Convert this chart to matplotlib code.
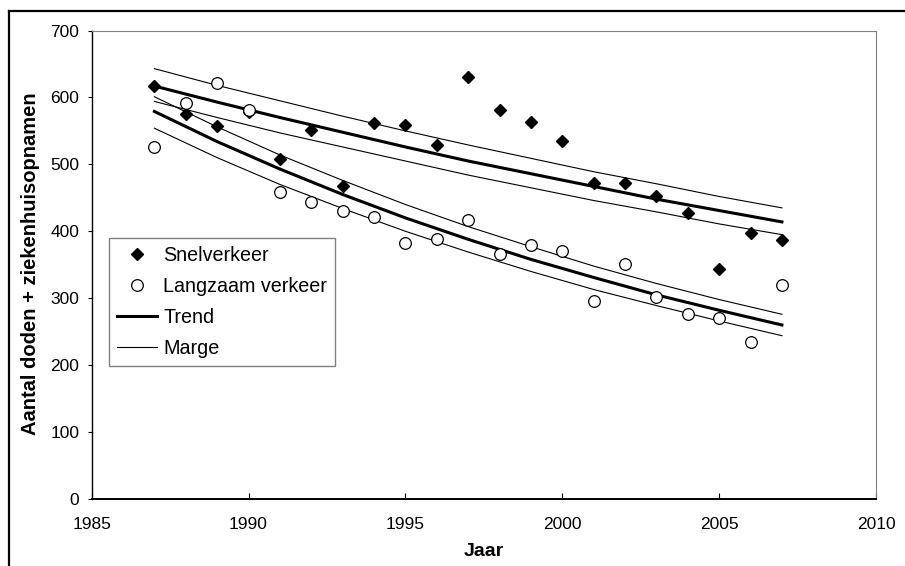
import matplotlib
matplotlib.use("Agg")
import matplotlib.pyplot as plt
from matplotlib.lines import Line2D

plt.rcParams['font.family'] = ['Liberation Sans', 'DejaVu Sans']

years = list(range(1987, 2008))

snel = [617, 575, 557, 578, 508, 552, 467, 562, 559, 529, 630,
        581, 564, 535, 472, 472, 453, 427, 343, 397, 387]

langzaam = [526, 592, 621, 581, 459, 444, 430, 421, 382, 388, 417,
            366, 380, 370, 296, 351, 302, 276, 271, 234, 319]

trend_years = [1987, 1989, 1991, 1993, 1995, 1997, 1999, 2001, 2003, 2005, 2007]

snel_trend = [617, 593, 570, 548, 526, 505, 486, 467, 448, 431, 414]
snel_upper = [643, 618, 595, 572, 550, 529, 509, 489, 471, 452, 435]
snel_lower = [594, 570, 547, 526, 505, 484, 465, 446, 429, 411, 395]

langzaam_trend = [579, 534, 493, 455, 420, 388, 358, 331, 305, 282, 260]
langzaam_upper = [601, 556, 514, 476, 440, 407, 377, 348, 322, 298, 276]
langzaam_lower = [554, 510, 470, 434, 400, 369, 340, 313, 289, 266, 244]

x_ticks = [1985, 1990, 1995, 2000, 2005, 2010]
y_ticks = [0, 100, 200, 300, 400, 500, 600, 700]


def make_chart():

    fig = plt.figure(figsize=(9.05, 5.66), dpi=100)
    ax = fig.add_axes([0.1013, 0.1184, 0.8667, 0.8277])

    thick = 2.2
    thin = 0.8

    for upper, trend, lower in [(snel_upper, snel_trend, snel_lower),
                                (langzaam_upper, langzaam_trend, langzaam_lower)]:
        ax.plot(trend_years, upper, color='black', lw=thin, zorder=2)
        ax.plot(trend_years, lower, color='black', lw=thin, zorder=2)
        ax.plot(trend_years, trend, color='black', lw=thick, zorder=2)

    ax.plot(years, snel, linestyle='none', marker='D', ms=6.6,
            color='black', zorder=3)
    ax.plot(years, langzaam, linestyle='none', marker='o', ms=8.4,
            markerfacecolor='white', markeredgecolor='black', mew=0.9,
            zorder=4)

    ax.set_xlim(1985, 2010)
    ax.set_ylim(0, 700)
    ax.set_xticks(x_ticks)
    ax.set_yticks(y_ticks)
    ax.tick_params(axis='x', direction='in', length=4, width=0.8,
                   pad=13, labelsize=12.5)
    ax.tick_params(axis='y', direction='out', length=3, width=0.8,
                   pad=6, labelsize=12.5)

    ax.spines['top'].set_color('#808080')
    ax.spines['right'].set_color('#808080')
    ax.spines['left'].set_linewidth(1.0)
    ax.spines['bottom'].set_linewidth(1.4)

    fig.text(0.535, 0.025, "Jaar", ha='center', va='center',
             fontsize=14, fontweight='bold')
    fig.text(0.034, 0.535, "Aantal doden + ziekenhuisopnamen",
             ha='center', va='center', rotation=90,
             fontsize=14.5, fontweight='bold')

    handles = [
        Line2D([], [], linestyle='none', marker='D', ms=6.6, color='black'),
        Line2D([], [], linestyle='none', marker='o', ms=8.4,
               markerfacecolor='white', markeredgecolor='black', mew=0.9),
        Line2D([], [], color='black', lw=thick),
        Line2D([], [], color='black', lw=thin),
    ]
    labels = ["Snelverkeer", "Langzaam verkeer", "Trend", "Marge"]

    leg = ax.legend(handles, labels, loc='upper left',
                    bbox_to_anchor=(109 / 905, 1 - 238 / 566),
                    bbox_transform=fig.transFigure,
                    fontsize=14.2, frameon=True, fancybox=False,
                    framealpha=1, edgecolor='#808080',
                    handlelength=2.0, handletextpad=0.32,
                    labelspacing=0.6, borderpad=0.42, borderaxespad=0)
    leg.get_frame().set_linewidth(1.0)

    # outer border of the original picture (top and left only)
    fig.add_artist(Line2D([9 / 905, 9 / 905], [0, 1 - 11 / 566],
                          transform=fig.transFigure, color='black', lw=1.6))
    fig.add_artist(Line2D([9 / 905, 1], [1 - 11 / 566, 1 - 11 / 566],
                          transform=fig.transFigure, color='black', lw=1.6))

    fig.savefig("out.png", dpi=100)


if __name__ == "__main__":
    make_chart()
